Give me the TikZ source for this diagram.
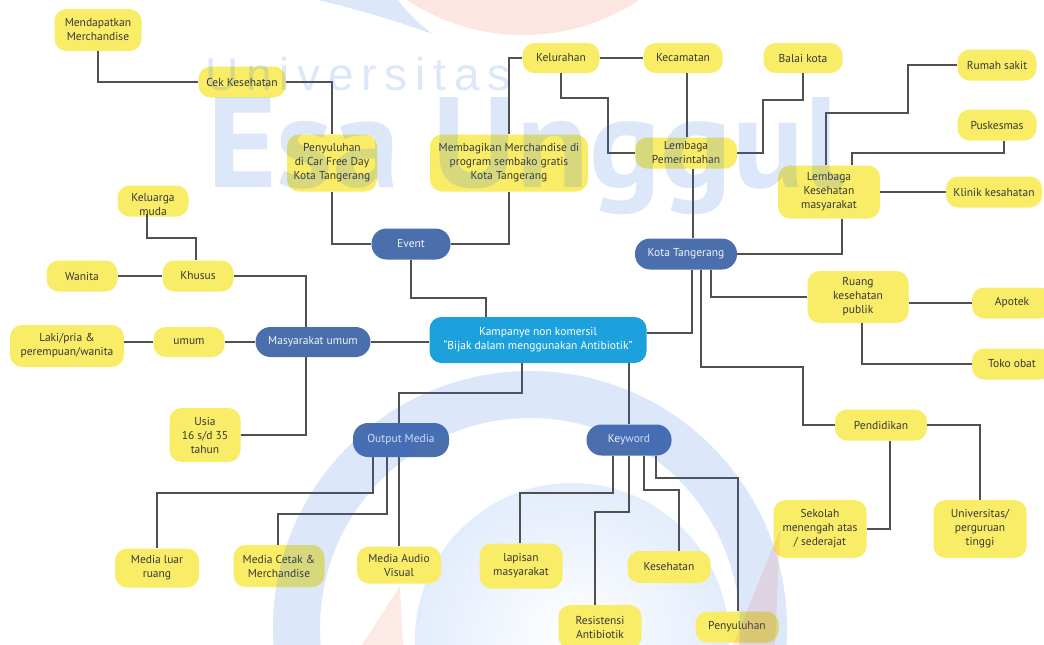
\documentclass[tikz,border=0pt]{standalone}
\usepackage{fontspec}
\setmainfont{PT Sans}
\newfontfamily\wmfont[LetterSpace=17]{Liberation Sans}
\definecolor{ynode}{RGB}{249,237,104}
\definecolor{bnode}{RGB}{75,111,172}
\definecolor{mnode}{RGB}{28,161,220}
\definecolor{lnk}{RGB}{80,80,80}
\definecolor{ytext}{RGB}{55,55,55}
\definecolor{wmblue}{RGB}{40,110,230}
\definecolor{wmpink}{RGB}{240,80,50}
\begin{document}
\begin{tikzpicture}[x=1pt,y=-1pt,
  sz/.style 2 args={minimum width=#1pt, minimum height=#2pt},
  nd/.style={align=center, inner sep=0pt, font=\fontsize{11.5}{14}\selectfont},
  yb/.style={nd, fill=ynode, text=ytext, rounded corners=12pt},
  bb/.style={nd, fill=bnode, text=white!92!bnode, rounded corners=15pt},
  mb/.style={nd, fill=mnode, text=white, rounded corners=12pt},
  lk/.style={draw=lnk, line width=1.8pt},
  wm/.style={fill opacity=0.16, text opacity=0.16}]
\clip (0,0) rectangle (1044,645);
\fill[white] (0,0) rectangle (1044,645);
% inner watermark disc (under everything)
\shade[inner color=white, outer color=wmblue!13!white] (572,640) circle[radius=157pt];

% ---------- nodes ----------
\node[yb, sz={87}{42}] (mend) at (98,30) {Mendapatkan\\Merchandise};
\node[yb, sz={87}{31}] (cek) at (242,82) {Cek Kesehatan};
\node[yb, sz={90}{57}] (peny1) at (332,163) {Penyuluhan\\di Car Free Day\\Kota Tangerang};
\node[yb, sz={158}{57}] (memb) at (509,163) {Membagikan Merchandise di\\program sembako gratis\\Kota Tangerang};
\node[yb, sz={77}{30}] (kel) at (561,58) {Kelurahan};
\node[yb, sz={79}{30}] (kec) at (683,58) {Kecamatan};
\node[yb, sz={79}{30}] (balai) at (803,58) {Balai kota};
\node[yb, sz={102}{31}] (lp) at (686,153) {Lembaga\\Pemerintahan};
\node[yb, sz={79}{31}] (rs) at (997,65) {Rumah sakit};
\node[yb, sz={79}{31}] (pusk) at (997,125) {Puskesmas};
\node[yb, sz={102}{53}] (lkm) at (829,192) {Lembaga\\Kesehatan\\masyarakat};
\node[yb, sz={96}{31}] (klinik) at (994,192) {Klinik kesahatan};
\node[yb, sz={101}{52}] (ruang) at (858,297) {Ruang\\kesehatan\\publik};
\node[yb, sz={80}{31}] (apotek) at (1012,303) {Apotek};
\node[yb, sz={80}{31}] (toko) at (1012,364) {Toko obat};
\node[yb, sz={92}{31}] (pend) at (881,425) {Pendidikan};
\node[yb, sz={93}{58}] (sma) at (820,529) {Sekolah\\menengah atas\\/ sederajat};
\node[yb, sz={93}{58}] (univ) at (980,529) {Universitas/\\perguruan\\tinggi};
\node[yb, sz={83}{32}] (kesh) at (669,567) {Kesehatan};
\node[yb, sz={83}{44}] (resis) at (600,627) {Resistensi\\Antibiotik};
\node[yb, sz={83}{31}] (peny2) at (737,627) {Penyuluhan};
\node[yb, sz={83}{45}] (lapisan) at (521,566) {lapisan\\masyarakat};
\node[yb, sz={84}{37}] (mav) at (399,565) {Media Audio\\Visual};
\node[yb, sz={91}{42}] (mcm) at (279,566) {Media Cetak \&\\Merchandise};
\node[yb, sz={84}{39}] (mlr) at (157,568) {Media luar\\ruang};
\node[yb, sz={71}{54}] (usia) at (205,435) {Usia\\16 s/d 35\\tahun};
\node[yb, sz={114}{42}] (laki) at (67,346) {Laki/pria \&\\perempuan/wanita};
\node[yb, sz={71}{30}] (umum) at (189,342) {umum};
\node[yb, sz={71}{31}] (wanita) at (82,276) {Wanita};
\node[yb, sz={71}{31}] (khusus) at (198,276) {Khusus};
\node[yb, sz={71}{31}] (kelmuda) at (153,201) {};

\node[bb, sz={79}{31}] (event) at (411,244) {Event};
\node[bb, sz={115}{30}] (masy) at (313,342) {Masyarakat umum};
\node[bb, sz={102}{31}] (kota) at (686,254) {Kota Tangerang};
\node[bb, sz={96}{34}] (outm) at (401,440) {Output Media};
\node[bb, sz={85}{31}] (keyw) at (629,440) {Keyword};
\node[mb, sz={217}{46}] (kamp) at (538,340) {Kampanye non komersil\\“Bijak dalam menggunakan Antibiotik”};

% ---------- connectors ----------
\draw[lk] (mend.south) |- (cek.west);
\draw[lk] (cek.east) -| (peny1.north);
\draw[lk] (peny1.south) |- (event.west);
\draw[lk] (event.east) -| (memb.south);
\draw[lk] (kel.west) -| (memb.north);
\draw[lk] (kel.east) -- (kec.west);
\draw[lk] (kel.south) |- (608,98) |- (lp.west);
\draw[lk] ([xshift=4pt]kec.south) -- ([xshift=4pt]kec.south |- lp.north);
\draw[lk] (balai.south) |- (763,100) |- (lp.east);
\draw[lk] ([xshift=7pt]lp.south) -- ([xshift=7pt]lp.south |- kota.north);
\draw[lk] (rs.west) -| (908,113) -| ([xshift=-3pt]lkm.north);
\draw[lk] ([xshift=7pt]pusk.south) |- (852,153) -- ([xshift=23pt]lkm.north);
\draw[lk] (lkm.east) -- (klinik.west);
\draw[lk] ([xshift=13pt]lkm.south) |- (kota.east);
\draw[lk] ([xshift=25pt]kota.south) |- (ruang.west);
\draw[lk] ([xshift=15pt]kota.south) |- (803,367) |- (pend.west);
\draw[lk] ([xshift=6pt]kota.south) |- ([yshift=7pt]kamp.east);
\draw[lk] ([yshift=-6pt]ruang.east) -- (apotek.west);
\draw[lk] ([xshift=4pt]ruang.south) |- (toko.west);
\draw[lk] (pend.east) -| (univ.north);
\draw[lk] ([xshift=9pt]pend.south) |- (sma.east);
\draw[lk] (keyw.north |- kamp.south) -- (keyw.north);
\draw[lk] ([xshift=-16pt]kamp.south) -- ++(0,30) -| ([xshift=-2pt]outm.north);
\draw[lk] (event.south) -- ++(0,38) -| ([xshift=-52pt]kamp.north);
\draw[lk] (masy.east) -- (masy.east -| kamp.west);
\draw[lk] (umum.east) -- (masy.west);
\draw[lk] (laki.east |- umum.west) -- (umum.west);
\draw[lk] ([xshift=-7pt]masy.north) |- (khusus.east);
\draw[lk] (wanita.east) -- (khusus.west);
\draw[lk] ([xshift=-2pt]khusus.north) -- ++(0,-22) -| ([xshift=-6pt,yshift=3pt]kelmuda.south);
\draw[lk] ([xshift=-7pt]masy.south) |- (usia.east);
\draw[lk] ([xshift=-28pt]outm.south) -- ++(0,36) -| (mlr.north);
\draw[lk] ([xshift=-14pt]outm.south) -- ++(0,57) -| ([xshift=-1pt]mcm.north);
\draw[lk] (mav.north |- outm.south) -- (mav.north);
\draw[lk] ([xshift=-16pt]keyw.south) -- ++(0,37) -| ([xshift=-1pt]lapisan.north);
\draw[lk] (keyw.south) -- ++(0,56) -| ([xshift=-5pt]resis.north);
\draw[lk] ([xshift=15pt]keyw.south) -- ++(0,34) -| ([xshift=10pt]kesh.north);
\draw[lk] ([xshift=27pt]keyw.south) -- ++(0,22) -| ([xshift=1pt]peny2.north);
% text of "Keluarga muda" sits low in its box, as in the reference
\node[nd, text=ytext] (kelmudat) at (153,205) {Keluarga\\muda};

% ---------- watermark overlay ----------
\fill[wmpink, fill opacity=0.14] (523,-175) circle[radius=210pt];
\fill[wmblue, wm] (318,0) .. controls (360,10) and (400,22) .. (432,34) .. controls (415,20) and (405,10) .. (398,0) -- cycle;
\fill[wmblue, wm, even odd rule] (530,628) circle[radius=257pt] (530,628) circle[radius=210pt];
\fill[wmpink, fill opacity=0.12] (400,586) -- (403,645) -- (362,645) -- cycle;
\fill[wmpink, fill opacity=0.12] (780,530) -- (775,645) -- (733,645) -- cycle;
\node[wm, text=wmblue, anchor=base west, inner sep=0pt, font=\fontsize{46}{50}\wmfont] (wmuni) at (205,90) {Universitas};
\node[wm, text=wmblue, anchor=base west, inner sep=0pt] (wmesa) at (207,187) {\resizebox{636pt}{90pt}{\bfseries Esa Unggul}};
\end{tikzpicture}
\end{document}
